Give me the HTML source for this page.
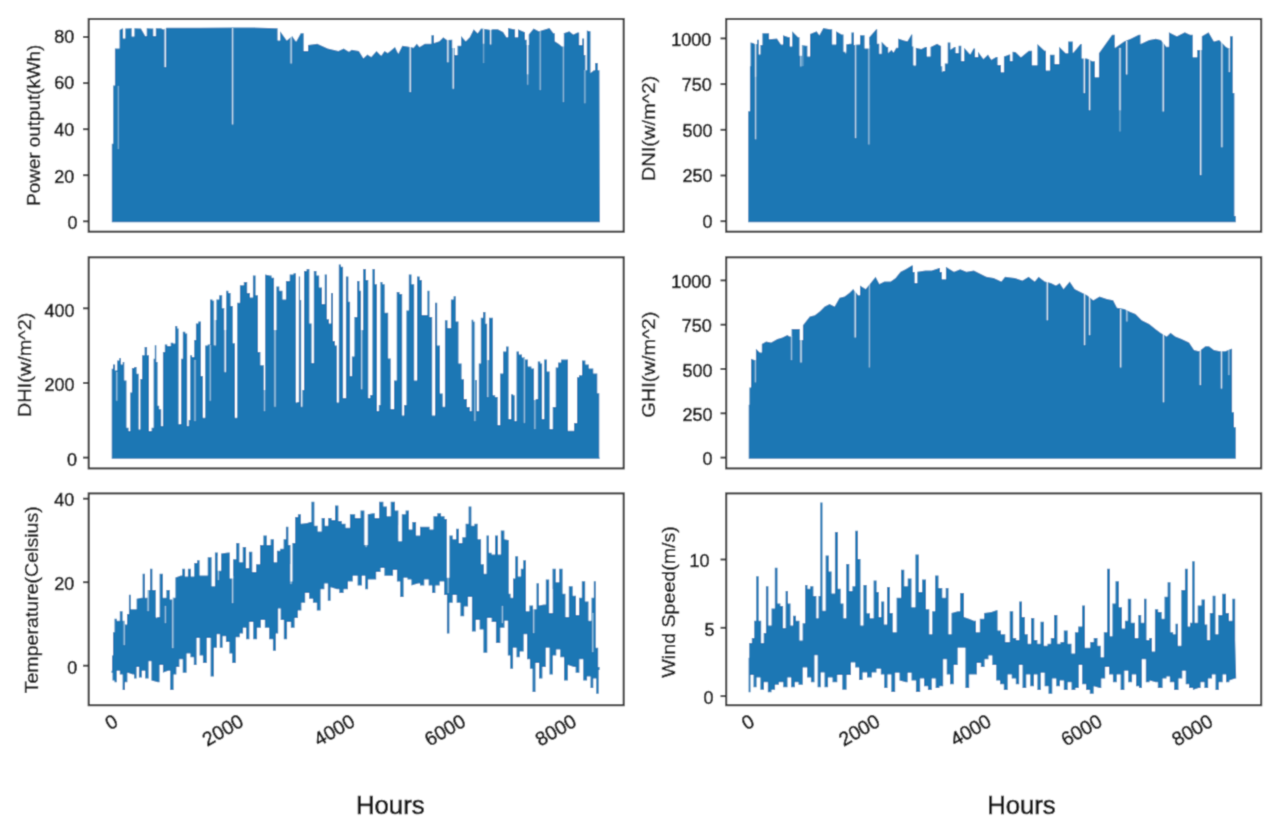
<!DOCTYPE html><html><head><meta charset="utf-8"><style>html,body{margin:0;padding:0;background:#fff;}svg{display:block}</style></head><body>
<svg width="1276" height="832" viewBox="0 0 1276 832" font-family='"Liberation Sans", sans-serif'>
<defs><filter id="bl" x="0" y="0" width="100%" height="100%"><feConvolveMatrix order="3" kernelMatrix="0.0622 0.2494 0.0622 0.2494 1.0000 0.2494 0.0622 0.2494 0.0622" edgeMode="duplicate"/></filter></defs>
<g filter="url(#bl)">
<rect width="1276" height="832" fill="#fff"/>
<polygon points="111.8,222.2 111.8,143.8 113.2,143.8 113.2,85.4 114.9,85.4 114.9,48.4 119.5,48.4 119.5,29.9 122.0,28.5 123.1,28.5 123.1,38.5 125.3,38.5 125.3,28.5 130.0,28.2 131.7,28.2 131.7,36.5 134.4,36.5 134.4,28.2 141.0,28.5 145.3,35.9 146.7,35.9 146.7,28.2 152.0,28.5 153.3,28.5 153.3,35.9 155.8,35.9 155.8,28.2 161.0,28.2 163.5,29.5 166.5,27.8 200.0,27.7 233.0,27.5 250.0,27.4 276.3,28.2 277.6,28.2 277.6,40.5 280.2,40.5 280.2,31.2 286.8,40.5 292.1,35.9 296.1,41.8 300.7,33.2 303.7,33.2 303.7,51.1 308.0,51.1 308.0,45.1 317.3,43.8 327.8,48.4 338.4,51.1 343.7,48.4 349.0,51.7 351.6,49.7 358.9,51.1 363.4,58.3 367.4,54.4 371.2,57.0 376.5,51.1 381.2,55.7 384.5,51.1 387.8,53.0 395.0,47.1 398.3,53.7 402.3,45.8 407.6,46.4 413.5,47.8 416.8,43.8 419.5,47.1 424.8,43.8 430.1,43.8 431.4,43.8 431.4,35.2 434.0,35.2 434.0,43.1 439.3,41.2 443.3,37.2 447.0,40.0 451.2,39.8 452.4,39.8 452.4,48.0 454.6,48.0 454.6,55.0 457.5,55.0 457.5,45.8 461.1,45.8 461.1,35.9 465.8,41.2 469.7,37.2 473.7,29.3 477.7,33.2 481.0,28.6 486.9,29.3 490.6,30.0 492.6,29.3 497.9,29.3 503.2,31.9 506.5,37.2 508.1,37.2 508.1,27.9 513.8,29.3 515.1,29.3 515.1,37.2 518.0,37.2 518.0,29.3 524.4,31.9 525.0,31.9 525.0,39.8 526.7,39.8 526.7,45.0 528.7,45.0 528.7,34.5 533.6,28.6 538.9,31.2 542.9,29.9 549.5,27.9 553.5,33.2 554.8,33.2 554.8,41.2 558.7,43.8 562.0,46.4 563.7,46.4 563.7,33.2 569.3,31.2 573.3,34.5 577.3,32.6 579.2,32.6 579.2,45.1 582.2,45.1 582.2,38.5 584.1,38.5 584.1,55.0 585.4,55.0 585.4,70.2 586.8,70.2 586.8,30.6 589.8,31.2 590.5,31.2 590.5,72.9 593.8,70.2 595.1,70.2 595.1,63.0 597.8,63.0 597.8,70.2 599.5,70.2 599.5,75.0 599.9,222.2 599.9,222.2" fill="#1f77b4"/><line x1="118.3" y1="86" x2="118.3" y2="149" stroke="#fff" stroke-width="1.4" stroke-opacity="0.35"/><line x1="165.2" y1="28" x2="165.2" y2="66.9" stroke="#fff" stroke-width="1.4" stroke-opacity="0.9"/><line x1="232.6" y1="28" x2="232.6" y2="124.5" stroke="#fff" stroke-width="1.4" stroke-opacity="0.7"/><line x1="291.1" y1="36" x2="291.1" y2="63.6" stroke="#fff" stroke-width="1.4" stroke-opacity="0.7"/><line x1="410.2" y1="47" x2="410.2" y2="92" stroke="#fff" stroke-width="1.4" stroke-opacity="0.8"/><line x1="447.9" y1="38" x2="447.9" y2="62.3" stroke="#fff" stroke-width="1.4" stroke-opacity="0.85"/><line x1="453.2" y1="40" x2="453.2" y2="88.7" stroke="#fff" stroke-width="1.4" stroke-opacity="0.8"/><line x1="483.6" y1="29" x2="483.6" y2="43.8" stroke="#fff" stroke-width="1.4" stroke-opacity="0.8"/><line x1="483.6" y1="43.8" x2="483.6" y2="63" stroke="#fff" stroke-width="1.4" stroke-opacity="0.3"/><line x1="490.6" y1="29" x2="490.6" y2="44.5" stroke="#fff" stroke-width="1.4" stroke-opacity="0.8"/><line x1="527.7" y1="40" x2="527.7" y2="74.2" stroke="#fff" stroke-width="1.4" stroke-opacity="0.85"/><line x1="527.7" y1="74" x2="527.7" y2="84.8" stroke="#fff" stroke-width="1.4" stroke-opacity="0.4"/><line x1="540.2" y1="31" x2="540.2" y2="90" stroke="#fff" stroke-width="1.4" stroke-opacity="0.45"/><line x1="563.4" y1="34" x2="563.4" y2="102" stroke="#fff" stroke-width="1.4" stroke-opacity="0.45"/><line x1="584.9" y1="70" x2="584.9" y2="103.3" stroke="#fff" stroke-width="1.4" stroke-opacity="0.45"/>
<rect x="88.7" y="19.0" width="535.0" height="212.7" fill="none" stroke="#383838" stroke-width="2.1"/>
<line x1="83.0" y1="221.3" x2="88.7" y2="221.3" stroke="#383838" stroke-width="2"/>
<text x="77.4" y="228.8" font-size="18.8" text-anchor="end" fill="#141414" stroke="#141414" stroke-width="0.65" textLength="10.0" lengthAdjust="spacingAndGlyphs">0</text>
<line x1="83.0" y1="175.2" x2="88.7" y2="175.2" stroke="#383838" stroke-width="2"/>
<text x="74.3" y="182.8" font-size="18.8" text-anchor="end" fill="#141414" stroke="#141414" stroke-width="0.65" textLength="20.0" lengthAdjust="spacingAndGlyphs">20</text>
<line x1="83.0" y1="129.2" x2="88.7" y2="129.2" stroke="#383838" stroke-width="2"/>
<text x="74.3" y="136.4" font-size="18.8" text-anchor="end" fill="#141414" stroke="#141414" stroke-width="0.65" textLength="20.0" lengthAdjust="spacingAndGlyphs">40</text>
<line x1="83.0" y1="83.1" x2="88.7" y2="83.1" stroke="#383838" stroke-width="2"/>
<text x="74.3" y="89.3" font-size="18.8" text-anchor="end" fill="#141414" stroke="#141414" stroke-width="0.65" textLength="20.0" lengthAdjust="spacingAndGlyphs">60</text>
<line x1="83.0" y1="37.0" x2="88.7" y2="37.0" stroke="#383838" stroke-width="2"/>
<text x="74.3" y="42.7" font-size="18.8" text-anchor="end" fill="#141414" stroke="#141414" stroke-width="0.65" textLength="20.0" lengthAdjust="spacingAndGlyphs">80</text>
<text transform="translate(40.2,125.2) rotate(-90)" font-size="18.5" text-anchor="middle" fill="#141414" textLength="161" lengthAdjust="spacingAndGlyphs" stroke="#141414" stroke-width="0.4">Power output(kWh)</text>
<polygon points="748.2,222.2 748.2,111.2 749.9,111.2 749.9,66.3 750.5,66.3 750.5,42.5 753.2,43.1 754.8,44.0 756.5,44.0 757.1,44.0 757.1,39.8 758.8,39.8 758.8,54.4 760.4,54.4 760.4,45.0 762.4,45.0 762.4,33.2 767.8,33.2 769.1,33.2 769.1,39.2 777.0,38.5 781.0,44.5 783.0,44.5 783.0,35.2 788.9,37.2 789.9,37.2 789.9,46.4 792.2,46.4 792.2,31.2 798.2,37.2 799.5,37.2 799.5,55.7 801.9,55.7 801.9,45.0 806.1,45.8 807.4,45.8 807.4,56.4 810.0,56.4 810.0,33.9 816.7,31.2 819.3,35.2 823.3,27.9 829.9,29.3 832.2,29.3 832.2,44.5 836.1,44.5 836.1,31.2 841.8,34.5 843.5,34.5 843.5,51.7 846.1,51.7 846.1,44.5 849.7,43.8 851.4,43.8 851.4,32.6 854.0,32.6 854.0,45.1 858.3,44.5 860.0,44.5 860.0,35.2 864.6,35.2 864.6,48.4 869.2,48.4 869.2,37.2 876.2,29.3 877.2,29.3 877.2,43.8 879.3,43.8 879.3,53.7 881.6,53.7 881.6,41.8 886.9,47.1 888.2,47.1 888.2,53.0 891.5,49.7 893.5,52.4 896.2,47.8 898.2,47.8 898.2,38.5 904.1,40.5 907.4,41.2 911.4,34.5 912.3,34.5 912.3,46.4 913.8,46.4 913.8,65.6 915.8,65.6 915.8,47.8 921.3,49.1 925.2,47.1 926.9,47.1 926.9,56.4 930.5,56.4 930.5,47.1 937.1,43.8 940.4,45.8 941.1,45.8 941.1,66.3 942.5,66.3 942.5,70.9 944.8,70.9 944.8,63.6 947.7,63.6 947.7,42.5 950.4,42.5 950.4,49.7 954.3,47.1 955.6,47.1 955.6,53.0 958.6,53.0 958.6,45.8 961.3,45.8 961.3,61.0 964.2,61.0 964.2,47.8 970.2,54.4 973.5,48.4 975.1,48.4 975.1,57.0 978.1,57.0 978.1,51.7 983.4,59.0 988.0,54.4 991.3,59.7 996.0,57.0 997.6,57.0 997.6,65.0 1001.0,65.0 1001.0,72.2 1003.9,72.2 1003.9,56.4 1009.2,54.4 1010.2,54.4 1010.2,61.0 1012.5,61.0 1012.5,51.7 1015.6,52.0 1020.9,57.3 1028.8,50.7 1032.1,50.7 1032.1,65.3 1037.4,65.3 1037.4,44.1 1044.7,50.7 1046.0,50.7 1046.0,70.5 1049.9,70.5 1049.9,54.7 1054.6,54.7 1054.6,63.9 1059.2,63.9 1059.2,46.7 1065.8,53.3 1068.2,53.3 1068.2,41.4 1072.8,41.4 1072.8,53.3 1080.4,44.1 1081.7,44.1 1081.7,58.6 1087.0,58.6 1092.3,61.3 1094.9,61.3 1094.9,77.2 1098.9,77.2 1098.9,53.3 1105.5,44.1 1112.1,34.8 1114.8,34.8 1114.8,48.1 1124.0,41.4 1130.6,38.8 1138.6,34.8 1140.5,34.8 1140.5,44.1 1149.1,40.1 1155.8,38.8 1161.0,40.1 1166.3,46.7 1168.9,46.7 1168.9,32.2 1176.9,36.2 1184.8,32.2 1190.1,34.8 1192.8,34.8 1192.8,57.3 1197.2,57.3 1197.2,50.0 1201.8,50.0 1201.8,36.2 1208.6,32.2 1213.9,41.4 1219.2,40.1 1225.8,46.7 1228.0,48.0 1230.0,48.0 1230.0,36.2 1232.8,36.2 1232.8,93.0 1234.4,93.0 1234.4,216.0 1235.8,216.0 1235.8,222.2 1236.4,222.2" fill="#1f77b4"/><line x1="755.6" y1="44" x2="755.6" y2="139.3" stroke="#fff" stroke-width="1.4" stroke-opacity="0.6"/><line x1="755.6" y1="44" x2="755.6" y2="76.8" stroke="#fff" stroke-width="1.4" stroke-opacity="0.4"/><line x1="800.9" y1="50" x2="800.9" y2="66.6" stroke="#fff" stroke-width="1.4" stroke-opacity="0.6"/><line x1="802.8" y1="45" x2="802.8" y2="66" stroke="#fff" stroke-width="1.4" stroke-opacity="0.3"/><line x1="845.6" y1="45" x2="845.6" y2="53.3" stroke="#fff" stroke-width="1.4" stroke-opacity="0.6"/><line x1="855.6" y1="45" x2="855.6" y2="138" stroke="#fff" stroke-width="1.4" stroke-opacity="0.65"/><line x1="868.9" y1="45" x2="868.9" y2="144.6" stroke="#fff" stroke-width="1.4" stroke-opacity="0.5"/><line x1="913.8" y1="46" x2="913.8" y2="65.2" stroke="#fff" stroke-width="1.4" stroke-opacity="0.6"/><line x1="942.4" y1="65" x2="942.4" y2="71.9" stroke="#fff" stroke-width="1.4" stroke-opacity="0.5"/><line x1="1084.3" y1="58" x2="1084.3" y2="93" stroke="#fff" stroke-width="1.4" stroke-opacity="0.8"/><line x1="1089.6" y1="60" x2="1089.6" y2="110.2" stroke="#fff" stroke-width="1.4" stroke-opacity="0.8"/><line x1="1120" y1="48" x2="1120" y2="110.2" stroke="#fff" stroke-width="1.4" stroke-opacity="0.8"/><line x1="1120" y1="110" x2="1120" y2="131.4" stroke="#fff" stroke-width="1.4" stroke-opacity="0.35"/><line x1="1126.7" y1="41" x2="1126.7" y2="74.5" stroke="#fff" stroke-width="1.4" stroke-opacity="0.8"/><line x1="1163.2" y1="40" x2="1163.2" y2="111.5" stroke="#fff" stroke-width="1.4" stroke-opacity="0.8"/><line x1="1200.7" y1="50" x2="1200.7" y2="175" stroke="#fff" stroke-width="1.4" stroke-opacity="0.8"/><line x1="1221.9" y1="41" x2="1221.9" y2="147.2" stroke="#fff" stroke-width="1.4" stroke-opacity="0.75"/><line x1="1229.3" y1="47" x2="1229.3" y2="71.9" stroke="#fff" stroke-width="1.4" stroke-opacity="0.7"/>
<rect x="726.2" y="19.0" width="535.0" height="212.7" fill="none" stroke="#383838" stroke-width="2.1"/>
<line x1="720.5" y1="221.2" x2="726.2" y2="221.2" stroke="#383838" stroke-width="2"/>
<text x="712.4" y="228.4" font-size="18.8" text-anchor="end" fill="#141414" stroke="#141414" stroke-width="0.65" textLength="10.0" lengthAdjust="spacingAndGlyphs">0</text>
<line x1="720.5" y1="175.5" x2="726.2" y2="175.5" stroke="#383838" stroke-width="2"/>
<text x="712.4" y="182.4" font-size="18.8" text-anchor="end" fill="#141414" stroke="#141414" stroke-width="0.65" textLength="30.0" lengthAdjust="spacingAndGlyphs">250</text>
<line x1="720.5" y1="129.8" x2="726.2" y2="129.8" stroke="#383838" stroke-width="2"/>
<text x="712.4" y="137.2" font-size="18.8" text-anchor="end" fill="#141414" stroke="#141414" stroke-width="0.65" textLength="30.0" lengthAdjust="spacingAndGlyphs">500</text>
<line x1="720.5" y1="84.1" x2="726.2" y2="84.1" stroke="#383838" stroke-width="2"/>
<text x="711.7" y="91.4" font-size="18.8" text-anchor="end" fill="#141414" stroke="#141414" stroke-width="0.65" textLength="30.0" lengthAdjust="spacingAndGlyphs">750</text>
<line x1="720.5" y1="38.4" x2="726.2" y2="38.4" stroke="#383838" stroke-width="2"/>
<text x="711.2" y="46.0" font-size="18.8" text-anchor="end" fill="#141414" stroke="#141414" stroke-width="0.65" textLength="40.0" lengthAdjust="spacingAndGlyphs">1000</text>
<text transform="translate(655.1,128.6) rotate(-90)" font-size="18.5" text-anchor="middle" fill="#141414" textLength="105.5" lengthAdjust="spacingAndGlyphs" stroke="#141414" stroke-width="0.4">DNI(w/m^2)</text>
<polygon points="111.7,458.8 111.7,368.8 113.0,368.8 113.0,364.6 115.1,364.6 115.1,370.5 117.2,370.5 117.2,360.4 119.3,360.4 119.3,357.9 120.9,357.9 120.9,364.6 122.7,364.6 122.7,362.1 124.3,362.1 124.3,380.6 126.5,380.6 126.5,427.7 128.6,427.7 128.6,431.1 130.2,431.1 130.2,392.4 131.9,392.4 131.9,368.0 134.1,368.0 134.1,367.1 136.6,367.1 136.6,373.8 138.7,373.8 138.7,429.4 140.3,429.4 140.3,378.9 142.1,378.9 142.1,355.3 144.6,355.3 144.6,346.9 147.1,346.9 147.1,355.3 149.0,355.3 149.0,431.1 151.6,431.1 151.6,427.7 153.6,427.7 153.6,358.7 154.8,358.7 154.8,345.2 156.3,345.2 156.3,362.1 157.6,362.1 157.6,405.8 159.2,405.8 159.2,409.2 161.2,409.2 161.2,426.0 162.9,426.0 162.9,352.0 164.8,352.0 164.8,344.4 167.3,344.4 167.3,346.1 170.7,346.1 170.7,342.7 173.2,342.7 173.2,343.6 175.2,343.6 175.2,325.9 177.3,325.9 177.3,328.4 178.6,328.4 178.6,424.3 180.5,424.0 181.1,424.0 181.1,358.7 182.8,358.7 182.8,331.8 185.3,331.8 185.3,333.5 187.2,333.5 187.2,426.0 188.7,426.0 188.7,420.0 190.2,420.0 190.2,355.3 192.1,355.3 192.1,357.0 194.2,357.0 194.2,340.0 195.9,340.0 195.9,323.4 198.3,323.4 198.3,321.4 200.9,321.4 200.9,376.1 202.9,376.1 202.9,417.7 205.2,417.7 205.2,345.5 207.7,345.5 207.7,344.4 210.1,344.4 210.1,299.6 212.5,299.6 212.5,300.7 214.4,300.7 214.4,320.0 216.4,320.0 216.4,299.6 219.2,299.6 219.2,295.2 222.2,295.2 222.2,308.3 224.4,308.3 224.4,330.0 226.2,330.0 226.2,290.8 228.4,290.8 228.4,293.0 230.6,293.0 230.6,306.1 232.8,306.1 232.8,343.3 235.0,343.3 235.0,417.7 237.2,417.7 237.2,302.8 239.9,302.8 239.9,285.3 243.8,285.3 243.8,282.1 247.2,282.1 247.2,293.0 250.0,293.0 250.0,297.4 252.9,297.4 252.9,275.5 255.6,275.5 255.6,295.2 258.0,295.2 258.0,352.1 260.4,352.1 260.4,365.2 263.4,365.2 263.9,365.2 263.9,390.0 265.1,390.0 265.1,274.4 270.0,275.5 271.6,275.5 271.6,277.7 274.1,277.7 274.1,330.0 276.4,330.0 276.4,286.4 279.3,286.4 279.3,290.8 282.5,290.8 282.5,299.6 285.9,299.6 285.9,281.0 289.7,281.0 289.7,274.4 293.5,274.4 293.5,273.3 295.9,273.3 295.9,402.4 297.4,402.4 297.4,402.0 298.8,402.0 298.8,276.6 300.1,276.6 300.1,300.0 301.2,300.0 301.2,406.8 302.4,406.8 302.4,390.0 304.0,390.0 304.0,271.1 306.6,271.1 306.6,268.9 309.4,268.9 309.4,323.6 311.6,323.6 311.6,363.0 313.8,363.0 313.8,271.1 316.5,271.1 316.5,275.5 319.2,275.5 319.2,287.5 322.0,287.5 322.0,303.9 324.7,303.9 324.7,274.4 326.9,274.4 326.9,319.3 329.0,319.3 329.0,323.6 331.1,323.6 331.1,293.0 333.0,293.0 333.0,341.1 335.0,341.1 335.0,345.5 336.9,345.5 336.9,402.4 338.8,402.4 338.8,264.6 340.9,264.6 340.9,266.8 343.1,266.8 343.1,398.0 345.9,398.0 345.9,276.6 348.4,276.6 348.4,301.8 350.1,301.8 350.1,376.1 351.9,376.1 351.9,356.4 354.4,356.4 354.4,317.1 357.1,317.1 357.1,281.0 359.5,281.0 359.5,290.8 361.1,290.8 361.1,330.0 363.1,330.0 363.1,268.9 365.9,268.9 365.9,279.9 368.3,279.9 368.3,398.0 370.2,398.0 370.2,395.0 372.4,395.0 372.4,268.9 374.9,268.9 374.9,284.3 377.0,284.3 377.0,411.1 378.8,411.1 378.8,405.0 380.4,405.0 380.4,282.1 382.5,282.1 382.5,284.3 384.7,284.3 384.7,312.7 387.3,312.7 388.2,312.7 388.2,358.6 390.7,358.6 390.7,409.0 394.0,409.0 394.0,380.5 396.7,380.5 396.7,291.9 399.5,291.9 399.5,294.1 402.2,294.1 402.2,415.5 404.1,415.5 404.1,405.0 406.4,405.0 406.4,310.5 408.8,310.5 408.8,274.4 411.5,274.4 411.5,284.3 414.2,284.3 414.2,380.5 417.0,380.5 417.0,276.6 419.7,276.6 419.7,279.9 421.9,279.9 421.9,314.9 426.3,314.9 427.4,314.9 427.4,290.8 429.5,290.8 429.5,317.1 432.2,317.1 432.2,415.5 435.0,415.5 435.0,302.8 437.2,302.8 437.2,345.5 440.0,345.5 440.0,393.6 442.7,393.6 442.7,406.8 444.9,406.8 444.9,320.3 447.5,320.3 447.5,328.0 450.9,328.0 450.9,299.6 453.6,299.6 453.6,296.3 455.8,296.3 455.8,321.4 458.5,321.4 458.5,363.4 461.6,363.4 461.6,379.3 464.0,379.3 464.0,399.1 466.9,399.1 466.9,407.1 469.9,407.1 469.9,411.0 471.6,411.0 471.6,319.8 473.3,319.8 473.3,321.8 475.1,321.8 475.1,380.0 476.9,380.0 476.9,411.0 478.8,411.0 478.8,363.4 480.8,363.4 480.8,317.8 483.0,317.8 483.0,311.9 485.5,311.9 485.5,323.8 487.3,323.8 487.3,360.0 489.0,360.0 489.0,317.8 492.1,317.8 492.9,317.8 492.9,395.2 495.2,395.2 495.2,397.1 497.7,397.1 497.7,424.9 500.1,424.9 500.1,373.4 503.1,373.4 503.1,351.5 506.1,351.5 506.1,346.6 508.6,346.6 508.6,419.0 511.1,419.0 511.1,394.2 513.2,394.2 513.2,395.2 514.7,395.2 514.7,420.9 516.5,420.9 516.5,351.5 519.0,351.5 519.0,354.5 522.0,354.5 522.0,357.5 524.9,357.5 524.9,359.5 527.9,359.5 527.9,366.4 531.4,366.4 531.4,368.4 534.1,368.4 534.1,400.0 535.6,400.0 535.6,399.1 537.8,399.1 537.8,361.5 540.3,361.5 540.3,363.4 542.1,363.4 542.1,419.0 544.2,419.0 544.2,359.5 546.9,359.5 546.9,371.4 549.7,371.4 549.7,428.9 552.7,428.9 552.7,407.1 555.7,407.1 555.7,367.4 558.1,367.4 558.1,362.5 561.1,362.5 561.1,359.5 567.1,359.5 568.0,359.5 568.0,430.8 572.0,430.8 574.0,430.8 574.0,422.9 577.0,422.9 577.0,377.3 579.0,377.3 579.0,375.3 582.0,375.3 582.0,360.5 585.4,360.5 585.4,364.4 588.8,364.4 588.8,368.4 593.3,368.4 593.3,373.4 597.3,373.4 597.3,393.2 599.3,393.2 599.3,456.6 599.8,458.8 599.8,458.8" fill="#1f77b4"/><line x1="116.8" y1="372" x2="116.8" y2="400.8" stroke="#fff" stroke-width="1.4" stroke-opacity="0.5"/><line x1="195" y1="360" x2="195" y2="421" stroke="#fff" stroke-width="1.4" stroke-opacity="0.5"/><line x1="210.2" y1="345" x2="210.2" y2="400.8" stroke="#fff" stroke-width="1.4" stroke-opacity="0.5"/><line x1="214.4" y1="301" x2="214.4" y2="345.2" stroke="#fff" stroke-width="1.4" stroke-opacity="0.6"/><line x1="225.3" y1="310" x2="225.3" y2="372.2" stroke="#fff" stroke-width="1.4" stroke-opacity="0.6"/><line x1="264.5" y1="366" x2="264.5" y2="411.1" stroke="#fff" stroke-width="1.4" stroke-opacity="0.5"/><line x1="275" y1="280" x2="275" y2="406.8" stroke="#fff" stroke-width="1.4" stroke-opacity="0.6"/><line x1="323.6" y1="276" x2="323.6" y2="303.9" stroke="#fff" stroke-width="1.4" stroke-opacity="0.5"/><line x1="361.7" y1="291" x2="361.7" y2="389.3" stroke="#fff" stroke-width="1.4" stroke-opacity="0.6"/><line x1="474.9" y1="322" x2="474.9" y2="420.9" stroke="#fff" stroke-width="1.4" stroke-opacity="0.5"/><line x1="487.8" y1="324" x2="487.8" y2="397.1" stroke="#fff" stroke-width="1.4" stroke-opacity="0.6"/><line x1="524.4" y1="358" x2="524.4" y2="422.9" stroke="#fff" stroke-width="1.4" stroke-opacity="0.5"/><line x1="534.9" y1="369" x2="534.9" y2="428.9" stroke="#fff" stroke-width="1.4" stroke-opacity="0.5"/><line x1="215.3" y1="301" x2="215.3" y2="345.5" stroke="#fff" stroke-width="1.4" stroke-opacity="0.6"/><line x1="225.2" y1="309" x2="225.2" y2="371.8" stroke="#fff" stroke-width="1.4" stroke-opacity="0.6"/>
<rect x="88.7" y="257.3" width="535.0" height="211.1" fill="none" stroke="#383838" stroke-width="2.1"/>
<line x1="83.0" y1="457.6" x2="88.7" y2="457.6" stroke="#383838" stroke-width="2"/>
<text x="77.0" y="465.8" font-size="18.8" text-anchor="end" fill="#141414" stroke="#141414" stroke-width="0.65" textLength="10.0" lengthAdjust="spacingAndGlyphs">0</text>
<line x1="83.0" y1="383.0" x2="88.7" y2="383.0" stroke="#383838" stroke-width="2"/>
<text x="74.5" y="391.1" font-size="18.8" text-anchor="end" fill="#141414" stroke="#141414" stroke-width="0.65" textLength="30.0" lengthAdjust="spacingAndGlyphs">200</text>
<line x1="83.0" y1="308.3" x2="88.7" y2="308.3" stroke="#383838" stroke-width="2"/>
<text x="74.5" y="316.8" font-size="18.8" text-anchor="end" fill="#141414" stroke="#141414" stroke-width="0.65" textLength="30.0" lengthAdjust="spacingAndGlyphs">400</text>
<text transform="translate(31.1,364.9) rotate(-90)" font-size="18.5" text-anchor="middle" fill="#141414" textLength="104.5" lengthAdjust="spacingAndGlyphs" stroke="#141414" stroke-width="0.4">DHI(w/m^2)</text>
<polygon points="748.7,458.8 748.7,404.8 749.4,404.8 749.4,387.4 751.0,387.4 751.0,358.8 754.4,360.0 755.9,360.0 755.9,348.8 759.9,352.6 761.8,352.6 761.8,343.9 766.1,341.4 771.1,342.6 777.3,338.9 782.3,337.6 787.3,335.1 789.8,336.4 791.6,336.4 791.6,328.9 798.5,328.9 799.8,328.9 799.8,340.0 802.9,340.0 802.9,325.2 809.7,316.5 814.7,315.2 819.6,311.5 824.6,306.5 829.6,304.0 834.6,306.5 839.5,297.8 844.5,296.6 849.5,292.8 853.2,289.1 858.2,295.3 860.0,295.3 860.0,285.4 865.7,289.1 870.6,282.9 875.6,276.7 879.4,284.1 884.3,281.6 890.6,281.6 895.5,277.9 900.5,271.7 905.5,269.2 911.7,265.5 912.9,265.5 912.9,272.0 914.7,272.0 914.7,282.9 917.3,282.9 917.3,271.7 925.4,270.4 931.6,270.4 939.1,268.0 940.0,268.0 940.0,272.0 941.9,272.0 941.9,279.2 945.9,279.2 945.9,266.7 954.0,271.7 960.2,269.2 966.5,271.7 973.9,270.4 978.9,272.9 986.4,276.7 993.8,277.9 1001.3,281.6 1005.0,276.7 1014.9,277.9 1022.4,280.4 1028.6,276.7 1034.8,281.6 1038.6,276.7 1044.8,281.6 1051.0,282.9 1056.0,285.4 1059.7,282.9 1063.5,289.1 1069.7,281.6 1074.7,289.1 1082.1,292.8 1087.1,295.3 1093.3,300.3 1099.5,296.6 1107.0,299.1 1113.2,300.3 1117.0,307.8 1124.4,309.0 1129.4,311.5 1135.6,314.0 1141.8,320.2 1149.3,323.9 1155.5,328.9 1160.5,332.7 1166.7,336.4 1170.5,332.7 1175.4,336.4 1181.7,338.9 1189.1,342.6 1194.1,350.1 1199.1,351.3 1205.3,346.3 1209.0,346.3 1214.0,350.1 1220.2,351.3 1225.2,351.3 1231.4,348.8 1232.1,348.8 1232.1,412.3 1234.0,412.3 1234.0,427.2 1235.8,427.2 1235.8,458.8 1236.4,458.8" fill="#1f77b4"/><line x1="755.4" y1="360" x2="755.4" y2="382.4" stroke="#fff" stroke-width="1.4" stroke-opacity="0.5"/><line x1="791.5" y1="336" x2="791.5" y2="360" stroke="#fff" stroke-width="1.4" stroke-opacity="0.5"/><line x1="801" y1="329" x2="801" y2="362.5" stroke="#fff" stroke-width="1.4" stroke-opacity="0.8"/><line x1="855.2" y1="290" x2="855.2" y2="337.6" stroke="#fff" stroke-width="1.4" stroke-opacity="0.75"/><line x1="869.4" y1="284" x2="869.4" y2="367.5" stroke="#fff" stroke-width="1.4" stroke-opacity="0.45"/><line x1="1047.3" y1="282" x2="1047.3" y2="320.2" stroke="#fff" stroke-width="1.4" stroke-opacity="0.75"/><line x1="1084.6" y1="294" x2="1084.6" y2="345.1" stroke="#fff" stroke-width="1.4" stroke-opacity="0.75"/><line x1="1089.6" y1="297" x2="1089.6" y2="335.1" stroke="#fff" stroke-width="1.4" stroke-opacity="0.75"/><line x1="1120.7" y1="309" x2="1120.7" y2="367.5" stroke="#fff" stroke-width="1.4" stroke-opacity="0.75"/><line x1="1126.9" y1="310" x2="1126.9" y2="321.5" stroke="#fff" stroke-width="1.4" stroke-opacity="0.6"/><line x1="1163.5" y1="334" x2="1163.5" y2="402.3" stroke="#fff" stroke-width="1.4" stroke-opacity="0.75"/><line x1="1200.3" y1="350" x2="1200.3" y2="384.9" stroke="#fff" stroke-width="1.4" stroke-opacity="0.75"/><line x1="1221.5" y1="351" x2="1221.5" y2="388.6" stroke="#fff" stroke-width="1.4" stroke-opacity="0.75"/><line x1="1228.9" y1="350" x2="1228.9" y2="375" stroke="#fff" stroke-width="1.4" stroke-opacity="0.5"/>
<rect x="726.2" y="257.3" width="535.0" height="211.1" fill="none" stroke="#383838" stroke-width="2.1"/>
<line x1="720.5" y1="457.6" x2="726.2" y2="457.6" stroke="#383838" stroke-width="2"/>
<text x="712.4" y="465.2" font-size="18.8" text-anchor="end" fill="#141414" stroke="#141414" stroke-width="0.65" textLength="10.0" lengthAdjust="spacingAndGlyphs">0</text>
<line x1="720.5" y1="413.3" x2="726.2" y2="413.3" stroke="#383838" stroke-width="2"/>
<text x="712.4" y="420.8" font-size="18.8" text-anchor="end" fill="#141414" stroke="#141414" stroke-width="0.65" textLength="30.0" lengthAdjust="spacingAndGlyphs">250</text>
<line x1="720.5" y1="369.0" x2="726.2" y2="369.0" stroke="#383838" stroke-width="2"/>
<text x="712.4" y="376.5" font-size="18.8" text-anchor="end" fill="#141414" stroke="#141414" stroke-width="0.65" textLength="30.0" lengthAdjust="spacingAndGlyphs">500</text>
<line x1="720.5" y1="324.7" x2="726.2" y2="324.7" stroke="#383838" stroke-width="2"/>
<text x="711.7" y="332.2" font-size="18.8" text-anchor="end" fill="#141414" stroke="#141414" stroke-width="0.65" textLength="30.0" lengthAdjust="spacingAndGlyphs">750</text>
<line x1="720.5" y1="280.4" x2="726.2" y2="280.4" stroke="#383838" stroke-width="2"/>
<text x="711.2" y="287.9" font-size="18.8" text-anchor="end" fill="#141414" stroke="#141414" stroke-width="0.65" textLength="40.0" lengthAdjust="spacingAndGlyphs">1000</text>
<text transform="translate(655.2,364.7) rotate(-90)" font-size="18.5" text-anchor="middle" fill="#141414" textLength="106" lengthAdjust="spacingAndGlyphs" stroke="#141414" stroke-width="0.4">GHI(w/m^2)</text>
<polygon points="111.5,670.8 112.0,670.8 112.0,655.4 113.0,655.4 113.0,632.3 114.5,632.3 114.5,618.8 116.8,618.8 116.8,620.8 119.8,620.8 119.8,611.2 122.6,611.2 122.6,620.8 125.0,620.8 125.0,624.6 127.0,624.6 127.0,614.0 128.9,614.0 128.9,594.8 130.8,594.8 130.8,609.2 135.6,609.2 136.6,609.2 136.6,598.7 141.3,597.7 142.6,597.7 142.6,573.7 145.0,573.7 145.0,597.7 147.6,597.7 147.6,590.0 150.0,590.0 150.0,568.8 152.4,568.8 152.4,590.0 155.8,590.0 155.8,616.9 159.6,616.9 159.6,573.7 162.9,573.7 162.9,597.7 166.4,597.7 166.4,590.0 169.8,590.0 169.8,599.6 172.6,599.6 172.6,597.7 175.4,597.7 175.4,577.5 180.8,575.6 182.2,575.6 182.2,568.8 185.1,568.8 185.1,576.5 187.9,576.5 187.9,568.8 190.9,568.8 190.9,576.5 194.2,576.5 194.2,563.1 197.1,563.1 197.1,560.2 199.6,560.2 199.6,575.6 205.8,575.6 207.7,575.6 207.7,557.3 211.6,557.3 211.6,586.2 214.9,586.2 214.9,552.5 217.8,552.5 217.8,570.8 221.1,570.8 221.1,553.5 227.9,552.5 229.8,552.5 229.8,578.5 233.1,578.5 233.1,559.2 236.2,559.2 236.2,543.1 239.4,543.1 239.4,562.3 242.7,562.3 242.7,546.9 246.1,546.9 246.1,568.1 248.9,568.1 248.9,551.7 252.3,551.7 252.3,571.9 256.1,571.9 256.1,564.2 260.0,564.2 260.0,545.0 263.4,545.0 263.4,535.4 266.8,535.4 266.8,545.0 270.6,545.0 270.6,539.2 273.9,539.2 273.9,562.3 276.9,562.3 276.9,550.8 280.2,550.8 280.2,548.8 283.6,548.8 283.6,539.2 285.9,539.2 285.9,526.7 288.4,526.7 288.4,545.0 290.5,545.0 290.5,581.5 292.4,581.5 292.4,543.1 295.1,543.1 295.1,517.1 297.9,517.1 297.9,514.2 300.9,514.2 300.9,523.8 307.1,522.9 310.0,521.9 311.4,521.9 311.4,501.7 314.4,501.7 314.4,525.8 317.7,525.8 317.7,531.5 321.6,531.5 321.6,518.1 324.9,518.1 324.9,525.8 328.2,525.8 328.2,518.1 331.6,518.1 331.6,520.0 335.0,520.0 335.0,505.6 338.4,505.6 338.4,521.0 341.8,521.0 341.8,523.8 345.6,523.8 345.6,527.7 349.9,527.7 349.9,514.2 355.2,514.2 355.2,518.1 360.5,518.1 360.5,510.4 364.4,510.4 364.4,545.0 367.7,545.0 367.7,514.2 372.9,513.3 374.8,513.3 374.8,518.1 379.1,518.1 379.1,501.7 383.4,501.7 383.4,506.5 386.9,506.5 386.9,516.2 390.7,516.2 390.7,501.7 395.0,501.7 395.0,510.4 398.4,510.4 398.4,541.2 401.8,541.2 401.8,514.2 405.6,514.2 405.6,510.4 408.9,510.4 408.9,529.6 412.3,529.6 412.3,521.9 416.1,521.9 416.1,535.4 420.0,535.4 420.0,526.7 427.7,526.7 429.6,526.7 429.6,529.6 433.4,529.6 433.4,516.2 437.3,516.2 437.3,513.3 441.1,513.3 441.1,516.2 444.6,516.2 444.6,519.0 446.9,519.0 446.9,577.7 449.4,577.7 449.4,535.4 452.7,535.4 452.7,539.2 456.1,539.2 456.1,528.7 458.9,528.7 458.9,543.1 462.3,543.1 462.3,537.3 465.6,537.3 465.6,523.8 468.6,523.8 468.6,506.5 471.4,506.5 471.4,525.8 474.4,525.8 474.4,523.8 477.7,523.8 477.7,539.2 481.1,539.2 481.1,564.2 483.9,564.2 483.9,573.8 486.5,573.8 486.5,535.4 488.9,535.4 488.9,552.7 491.6,552.7 491.6,554.6 495.0,554.6 495.0,535.4 498.0,535.4 498.0,554.6 500.8,554.6 500.8,530.6 504.4,530.6 504.4,539.2 508.3,540.0 508.8,540.0 508.8,593.8 510.6,593.8 510.6,597.7 513.0,597.7 513.0,578.5 515.2,578.5 515.2,556.3 518.1,556.3 518.1,576.5 520.8,576.5 520.8,568.8 523.2,568.8 523.2,560.2 526.0,560.2 526.0,611.2 529.4,611.2 529.4,605.4 533.2,605.4 533.2,609.2 536.5,609.2 536.5,583.3 538.9,583.3 538.9,605.4 543.8,604.4 545.8,604.4 545.8,579.4 549.2,579.4 549.2,613.1 552.5,613.1 552.5,568.8 555.8,568.8 555.8,582.3 559.2,582.3 559.2,568.8 562.6,568.8 562.6,593.8 565.5,593.8 565.5,616.9 568.8,616.9 568.8,586.2 572.7,586.2 572.7,595.8 576.0,595.8 576.0,615.0 579.0,615.0 579.0,597.7 581.8,597.7 581.8,581.3 585.2,581.3 585.2,601.5 588.5,601.5 588.5,620.8 591.5,620.8 591.5,597.7 593.8,597.7 593.8,581.3 595.8,581.3 595.8,647.7 598.2,647.7 598.2,666.9 599.6,666.9 599.6,670.0 598.7,670.0 598.7,693.8 596.2,693.8 596.2,678.5 593.3,678.5 593.3,688.1 590.5,688.1 590.5,676.5 587.1,676.5 587.1,680.4 583.2,680.4 583.2,659.2 579.4,659.2 579.4,672.7 575.6,672.7 575.6,666.9 573.7,666.9 567.9,665.0 567.9,680.4 564.0,680.4 564.0,657.3 560.2,657.3 560.2,649.6 556.3,649.6 556.3,655.4 552.8,655.4 552.8,674.6 549.5,674.6 549.5,647.7 545.8,647.7 545.8,666.9 542.4,666.9 542.4,678.5 539.0,678.5 539.0,663.1 535.5,663.1 535.5,691.9 532.5,691.9 532.5,668.8 529.9,668.8 529.9,659.2 527.0,659.2 527.0,634.2 523.7,634.2 523.7,651.5 519.8,651.5 519.8,657.3 516.5,657.3 516.5,647.7 513.1,647.7 513.1,668.8 510.2,668.8 510.2,655.4 507.8,655.4 507.8,620.8 504.5,620.8 504.5,627.7 500.3,627.7 500.3,643.1 495.9,643.1 495.9,621.9 491.6,621.9 491.6,618.1 487.3,618.1 487.3,652.7 483.4,652.7 483.4,629.6 479.6,629.6 479.6,620.0 475.8,620.0 475.8,631.5 471.9,631.5 471.9,596.9 468.1,596.9 468.1,606.5 464.2,606.5 464.2,616.2 460.4,616.2 460.4,602.7 456.6,602.7 456.6,595.0 452.7,595.0 452.7,602.7 449.4,602.7 449.4,633.5 446.9,633.5 446.9,595.0 444.1,595.0 444.1,581.5 439.7,581.5 439.7,585.4 435.4,585.4 435.4,593.1 432.1,593.1 432.1,585.4 428.6,585.4 428.6,579.6 424.3,579.6 424.3,585.4 420.0,585.4 420.0,583.5 418.1,583.5 411.4,585.4 411.4,579.6 407.5,579.6 407.5,577.7 403.6,577.7 403.6,596.9 400.2,596.9 400.2,581.5 396.9,581.5 396.9,570.0 393.1,570.0 393.1,575.8 391.2,575.8 384.4,575.8 384.4,568.1 380.6,568.1 380.6,571.9 376.2,571.9 376.2,579.6 373.8,579.6 368.1,579.6 368.1,589.2 365.2,589.2 365.2,575.8 361.9,575.8 361.9,585.4 357.6,585.4 357.6,575.8 352.8,575.8 352.8,581.5 348.0,581.5 348.0,589.2 343.6,589.2 343.6,593.1 339.3,593.1 339.3,589.2 336.9,589.2 330.6,587.3 330.6,600.8 327.8,600.8 327.8,583.5 324.4,583.5 324.4,589.2 320.6,589.2 320.6,610.4 316.8,610.4 316.8,602.7 312.9,602.7 312.9,598.8 309.1,598.8 309.1,593.1 305.2,593.1 305.2,602.7 301.4,602.7 301.4,610.4 297.9,610.4 297.9,618.1 294.6,618.1 294.6,627.7 290.8,627.7 290.8,621.9 287.1,621.9 287.1,639.2 283.8,639.2 283.8,620.0 280.6,620.0 280.6,608.5 278.2,608.5 278.2,633.5 275.9,633.5 275.9,650.8 272.9,650.8 272.9,639.2 269.1,639.2 269.1,627.7 264.8,627.7 264.8,620.0 260.9,620.0 260.9,627.7 257.1,627.7 257.1,639.2 253.2,639.2 253.2,621.9 249.4,621.9 249.4,639.2 246.1,639.2 246.1,627.7 243.1,627.7 243.1,633.5 239.8,633.5 239.8,637.3 235.8,637.3 235.8,663.1 232.2,663.1 232.2,653.5 229.4,653.5 229.4,641.9 225.9,641.9 225.9,636.2 222.6,636.2 222.6,647.7 219.8,647.7 219.8,634.2 216.9,634.2 216.9,647.7 213.9,647.7 213.9,676.5 210.6,676.5 210.6,638.1 206.8,638.1 206.8,663.1 202.9,663.1 202.9,655.4 199.6,655.4 199.6,638.1 196.6,638.1 196.6,665.0 193.8,665.0 193.8,657.3 190.4,657.3 190.4,653.5 186.6,653.5 186.6,672.7 182.7,672.7 182.7,659.2 179.4,659.2 179.4,666.9 176.4,666.9 176.4,674.6 173.6,674.6 173.6,690.0 170.2,690.0 170.2,670.8 168.3,670.8 162.9,672.7 162.9,665.0 159.6,665.0 159.6,682.3 157.7,682.3 151.4,680.4 151.4,661.2 148.6,661.2 148.6,678.5 145.2,678.5 145.2,670.8 141.9,670.8 141.9,677.5 138.9,677.5 138.9,666.9 136.6,666.9 136.6,678.5 134.1,678.5 134.1,674.6 132.7,674.6 127.4,672.7 127.4,682.3 125.0,682.3 125.0,690.0 122.6,690.0 122.6,674.6 119.8,674.6 119.8,670.8 116.8,670.8 116.8,682.3 114.5,682.3 114.5,680.4 112.5,680.4 112.5,672.7 111.5,672.7" fill="#1f77b4"/><line x1="124.2" y1="618" x2="124.2" y2="645" stroke="#fff" stroke-width="1.4" stroke-opacity="0.55"/><line x1="148.1" y1="581" x2="148.1" y2="611" stroke="#fff" stroke-width="1.4" stroke-opacity="0.6"/><line x1="156.7" y1="589" x2="156.7" y2="618" stroke="#fff" stroke-width="1.4" stroke-opacity="0.6"/><line x1="172.8" y1="598" x2="172.8" y2="648" stroke="#fff" stroke-width="1.4" stroke-opacity="0.6"/><line x1="165.4" y1="606" x2="165.4" y2="623" stroke="#fff" stroke-width="1.4" stroke-opacity="0.5"/><line x1="232.6" y1="576" x2="232.6" y2="603" stroke="#fff" stroke-width="1.4" stroke-opacity="0.6"/><line x1="291" y1="564" x2="291" y2="584" stroke="#fff" stroke-width="1.4" stroke-opacity="0.5"/><line x1="218.4" y1="556" x2="218.4" y2="580" stroke="#fff" stroke-width="1.4" stroke-opacity="0.5"/><line x1="366.1" y1="532" x2="366.1" y2="547" stroke="#fff" stroke-width="1.4" stroke-opacity="0.5"/><line x1="399.4" y1="525" x2="399.4" y2="539" stroke="#fff" stroke-width="1.4" stroke-opacity="0.5"/><line x1="448.1" y1="532" x2="448.1" y2="593" stroke="#fff" stroke-width="1.4" stroke-opacity="0.45"/><line x1="502.4" y1="606" x2="502.4" y2="623" stroke="#fff" stroke-width="1.4" stroke-opacity="0.5"/><line x1="533.7" y1="594" x2="533.7" y2="633" stroke="#fff" stroke-width="1.4" stroke-opacity="0.55"/><line x1="552.1" y1="589" x2="552.1" y2="613" stroke="#fff" stroke-width="1.4" stroke-opacity="0.5"/><line x1="592.8" y1="613" x2="592.8" y2="652" stroke="#fff" stroke-width="1.4" stroke-opacity="0.55"/>
<rect x="88.7" y="493.4" width="535.0" height="211.8" fill="none" stroke="#383838" stroke-width="2.1"/>
<line x1="83.0" y1="665.7" x2="88.7" y2="665.7" stroke="#383838" stroke-width="2"/>
<text x="77.3" y="673.7" font-size="18.8" text-anchor="end" fill="#141414" stroke="#141414" stroke-width="0.65" textLength="10.0" lengthAdjust="spacingAndGlyphs">0</text>
<line x1="83.0" y1="582.2" x2="88.7" y2="582.2" stroke="#383838" stroke-width="2"/>
<text x="74.3" y="590.4" font-size="18.8" text-anchor="end" fill="#141414" stroke="#141414" stroke-width="0.65" textLength="20.0" lengthAdjust="spacingAndGlyphs">20</text>
<line x1="83.0" y1="498.7" x2="88.7" y2="498.7" stroke="#383838" stroke-width="2"/>
<text x="74.3" y="506.3" font-size="18.8" text-anchor="end" fill="#141414" stroke="#141414" stroke-width="0.65" textLength="20.0" lengthAdjust="spacingAndGlyphs">40</text>
<text transform="translate(38.300000000000004,599.8) rotate(-90)" font-size="18.5" text-anchor="middle" fill="#141414" textLength="187" lengthAdjust="spacingAndGlyphs" stroke="#141414" stroke-width="0.4">Temperature(Celsius)</text>
<text transform="translate(111.3,721.9) rotate(-30)" font-size="19.5" text-anchor="middle" fill="#141414" dy="6.9" stroke="#141414" stroke-width="0.65">0</text>
<text transform="translate(222.7,729.9) rotate(-30)" font-size="19.5" text-anchor="middle" fill="#141414" dy="6.9" stroke="#141414" stroke-width="0.65">2000</text>
<text transform="translate(334.1,729.9) rotate(-30)" font-size="19.5" text-anchor="middle" fill="#141414" dy="6.9" stroke="#141414" stroke-width="0.65">4000</text>
<text transform="translate(444.9,729.9) rotate(-30)" font-size="19.5" text-anchor="middle" fill="#141414" dy="6.9" stroke="#141414" stroke-width="0.65">6000</text>
<text transform="translate(555.7,729.9) rotate(-30)" font-size="19.5" text-anchor="middle" fill="#141414" dy="6.9" stroke="#141414" stroke-width="0.65">8000</text>
<polygon points="748.6,657.7 749.2,657.7 749.2,642.9 751.8,642.9 751.8,638.0 754.2,638.0 754.2,620.7 756.2,620.7 756.2,576.3 758.7,576.3 758.7,620.7 761.2,620.7 761.2,642.9 763.7,642.9 763.7,633.0 765.9,633.0 765.9,586.2 768.4,586.2 768.4,625.6 771.5,625.6 771.5,608.4 774.8,608.4 774.8,567.7 777.5,567.7 777.5,603.5 780.4,603.5 780.4,605.9 783.1,605.9 783.1,628.1 785.6,628.1 785.6,591.1 788.0,591.1 788.0,603.5 790.5,603.5 790.5,625.6 793.0,625.6 793.0,615.8 796.0,615.8 796.0,620.7 799.5,620.7 799.5,640.4 802.6,640.4 802.6,623.2 805.1,623.2 805.1,585.0 807.5,585.0 807.5,588.7 810.2,588.7 810.2,586.2 813.4,586.2 813.4,596.1 816.4,596.1 816.4,618.2 818.5,618.2 818.5,596.1 820.3,596.1 820.3,502.4 822.5,502.4 822.5,610.8 825.6,610.8 825.6,555.4 828.8,555.4 828.8,571.4 831.6,571.4 831.6,593.6 834.9,593.6 834.9,532.0 837.9,532.0 837.9,588.7 840.7,588.7 840.7,603.5 843.5,603.5 843.5,618.2 846.2,618.2 846.2,564.0 849.3,564.0 849.3,591.1 852.4,591.1 852.4,586.2 855.2,586.2 855.2,530.7 858.0,530.7 858.0,559.1 860.5,559.1 860.5,625.6 863.4,625.6 863.4,585.0 866.7,585.0 866.7,613.3 870.0,613.3 870.0,618.2 873.6,618.2 873.6,580.4 876.6,580.4 876.6,591.9 878.8,591.9 878.8,616.9 881.2,616.9 881.2,601.5 884.2,601.5 884.2,624.6 887.0,624.6 887.0,587.1 889.9,587.1 889.9,613.1 892.8,613.1 892.8,632.3 896.6,632.3 896.6,597.7 901.0,597.7 901.0,569.8 904.3,569.8 904.3,586.2 907.7,586.2 907.7,578.5 911.5,578.5 911.5,607.3 915.4,607.3 915.4,554.4 918.8,554.4 918.8,591.9 922.1,591.9 922.1,579.4 926.0,579.4 926.0,609.2 929.3,609.2 929.3,634.2 932.2,634.2 932.2,611.2 935.1,611.2 935.1,575.6 938.5,575.6 938.5,588.1 942.3,588.1 942.3,597.7 945.7,597.7 945.7,588.1 948.5,588.1 948.5,634.2 951.5,634.2 951.5,613.1 957.7,611.2 960.1,611.2 960.1,592.9 964.0,592.9 964.0,616.9 969.2,618.8 974.0,620.8 976.0,620.8 976.0,632.3 979.8,632.3 979.8,618.8 984.1,618.8 984.1,613.1 991.3,612.1 996.2,610.2 997.6,610.2 997.6,630.4 1001.0,630.4 1001.0,634.2 1005.3,634.2 1005.3,641.9 1009.7,641.9 1009.7,611.2 1013.2,611.2 1013.2,638.1 1016.2,638.1 1016.2,640.0 1019.2,640.0 1019.2,601.5 1022.0,601.5 1022.0,616.9 1024.9,616.9 1024.9,634.2 1027.8,634.2 1027.8,643.8 1031.0,643.8 1031.0,617.9 1034.3,617.9 1034.3,640.0 1037.4,640.0 1037.4,643.8 1040.5,643.8 1040.5,621.7 1043.9,621.7 1043.9,645.8 1047.5,645.8 1047.5,643.8 1050.8,643.8 1050.8,638.1 1054.0,638.1 1054.0,615.0 1057.4,615.0 1057.4,643.8 1060.5,643.8 1060.5,641.9 1063.8,641.9 1063.8,630.4 1067.7,630.4 1067.7,643.8 1071.5,643.8 1071.5,653.5 1074.9,653.5 1074.9,632.3 1078.2,632.3 1078.2,626.5 1082.1,626.5 1082.1,605.4 1085.0,605.4 1085.0,647.7 1088.8,647.7 1090.2,647.7 1090.2,641.9 1093.7,641.9 1093.7,638.1 1097.5,638.1 1097.5,645.8 1100.8,645.8 1100.8,657.3 1103.8,657.3 1103.8,632.3 1107.1,632.3 1107.1,568.8 1110.0,568.8 1110.0,636.2 1112.4,636.2 1112.4,603.5 1115.5,603.5 1115.5,581.3 1118.9,581.3 1118.9,607.3 1122.0,607.3 1122.0,628.5 1124.9,628.5 1124.9,620.8 1127.8,620.8 1127.8,598.7 1131.2,598.7 1131.2,622.7 1135.0,622.7 1135.0,638.1 1138.3,638.1 1138.3,615.0 1141.2,615.0 1141.2,622.7 1144.0,622.7 1144.0,598.7 1146.5,598.7 1146.5,640.0 1149.2,640.0 1149.2,638.1 1152.0,638.1 1152.0,651.5 1154.9,651.5 1154.9,609.2 1158.2,609.2 1158.2,612.1 1161.7,612.1 1161.7,618.8 1164.5,618.8 1164.5,596.7 1167.6,596.7 1167.6,582.3 1170.5,582.3 1170.5,632.3 1173.2,632.3 1173.2,634.2 1175.5,634.2 1175.5,623.7 1178.0,623.7 1178.0,645.8 1181.3,645.8 1181.3,590.0 1184.9,590.0 1184.9,568.8 1187.8,568.8 1187.8,626.5 1190.0,626.5 1190.0,622.7 1192.2,622.7 1192.2,561.2 1194.7,561.2 1194.7,622.7 1197.7,622.7 1197.7,605.4 1201.5,605.4 1201.5,599.6 1204.9,599.6 1204.9,624.6 1207.3,624.6 1207.3,640.0 1209.8,640.0 1209.8,613.1 1212.6,613.1 1212.6,595.8 1215.5,595.8 1215.5,634.2 1218.3,634.2 1218.3,615.0 1222.2,615.0 1222.2,593.8 1226.0,593.8 1226.0,613.1 1229.0,613.1 1229.0,620.8 1232.3,620.8 1232.3,598.7 1235.2,598.7 1235.2,640.0 1236.2,678.5 1236.2,678.5 1235.2,678.5 1235.2,678.5 1229.4,680.4 1229.4,682.3 1226.0,682.3 1226.0,674.6 1222.7,674.6 1222.7,682.3 1218.8,682.3 1218.8,690.0 1215.5,690.0 1215.5,674.6 1212.1,674.6 1212.1,678.5 1208.2,678.5 1208.2,688.1 1204.4,688.1 1204.4,682.3 1200.6,682.3 1200.6,688.1 1198.7,688.1 1192.9,690.0 1192.9,688.1 1189.0,688.1 1189.0,684.2 1185.7,684.2 1185.7,670.8 1182.3,670.8 1182.3,678.5 1178.5,678.5 1178.5,690.0 1174.1,690.0 1174.1,682.3 1169.8,682.3 1169.8,676.5 1166.5,676.5 1166.5,678.5 1162.6,678.5 1162.6,688.1 1157.8,688.1 1157.8,682.3 1155.4,682.3 1149.6,680.4 1149.6,682.3 1145.8,682.3 1145.8,659.2 1141.9,659.2 1141.9,688.1 1139.0,688.1 1139.0,686.2 1136.0,686.2 1136.0,674.6 1132.1,674.6 1132.1,682.3 1128.2,682.3 1128.2,670.8 1124.4,670.8 1124.4,690.0 1120.6,690.0 1120.6,674.6 1116.8,674.6 1116.8,682.3 1112.9,682.3 1112.9,674.6 1109.0,674.6 1109.0,666.9 1105.2,666.9 1105.2,678.5 1101.3,678.5 1101.3,688.1 1099.4,688.1 1093.7,686.2 1093.7,693.8 1089.8,693.8 1089.8,690.0 1086.0,690.0 1086.0,684.2 1082.1,684.2 1082.1,665.0 1078.8,665.0 1078.8,688.1 1075.4,688.1 1075.4,690.0 1071.5,690.0 1071.5,682.3 1067.7,682.3 1067.7,690.0 1063.8,690.0 1063.8,680.4 1060.0,680.4 1060.0,686.2 1056.2,686.2 1056.2,678.5 1052.3,678.5 1052.3,693.8 1048.5,693.8 1048.5,686.2 1044.6,686.2 1044.6,672.7 1040.8,672.7 1040.8,690.0 1037.4,690.0 1037.4,674.6 1034.0,674.6 1034.0,686.2 1030.2,686.2 1030.2,674.6 1026.3,674.6 1026.3,688.1 1022.5,688.1 1022.5,665.0 1019.2,665.0 1019.2,684.2 1015.8,684.2 1015.8,678.5 1011.7,678.5 1011.7,674.6 1007.7,674.6 1007.7,690.0 1003.8,690.0 1003.8,684.2 1000.0,684.2 1000.0,680.4 996.2,680.4 996.2,665.0 992.3,665.0 992.3,655.4 988.5,655.4 988.5,659.2 984.6,659.2 984.6,666.9 980.8,666.9 980.8,663.1 976.9,663.1 976.9,674.6 975.0,674.6 969.2,674.6 969.2,688.1 965.4,688.1 965.4,647.7 963.5,647.7 957.7,647.7 957.7,665.0 953.8,665.0 953.8,684.2 950.0,684.2 950.0,674.6 946.7,674.6 946.7,659.2 943.2,659.2 943.2,686.2 939.4,686.2 939.4,688.1 935.6,688.1 935.6,678.5 931.8,678.5 931.8,690.0 927.9,690.0 927.9,686.2 924.0,686.2 924.0,678.5 920.2,678.5 920.2,691.9 915.9,691.9 915.9,680.4 911.5,680.4 911.5,672.7 907.7,672.7 907.7,682.3 905.8,682.3 899.5,680.4 899.5,672.7 895.2,672.7 895.2,691.9 891.3,691.9 891.3,674.6 887.5,674.6 887.5,688.1 884.2,688.1 884.2,674.6 880.8,674.6 880.8,668.8 876.5,668.8 876.5,672.5 871.8,672.5 871.8,677.4 867.0,677.4 867.0,672.5 862.6,672.5 862.6,679.9 859.0,679.9 859.0,667.5 855.2,667.5 855.2,662.6 851.0,662.6 851.0,674.9 846.6,674.9 846.6,689.7 842.3,689.7 842.3,674.9 837.3,674.9 837.3,682.3 832.5,682.3 832.5,677.4 828.1,677.4 828.1,687.3 824.5,687.3 824.5,672.5 820.8,672.5 820.8,687.3 817.6,687.3 817.6,655.2 814.5,655.2 814.5,682.3 810.9,682.3 810.9,677.4 807.1,677.4 807.1,667.5 802.8,667.5 802.8,684.8 798.5,684.8 798.5,682.3 794.9,682.3 794.9,687.3 791.1,687.3 791.1,677.4 787.5,677.4 787.5,687.3 783.2,687.3 783.2,682.3 778.9,682.3 778.9,684.8 775.1,684.8 775.1,689.7 771.5,689.7 771.5,692.2 767.8,692.2 767.8,682.3 764.0,682.3 764.0,689.7 760.4,689.7 760.4,677.4 756.6,677.4 756.6,687.3 753.5,687.3 753.5,674.9 750.5,674.9 750.5,692.2 748.6,692.2" fill="#1f77b4"/>
<rect x="726.2" y="493.4" width="535.0" height="211.8" fill="none" stroke="#383838" stroke-width="2.1"/>
<line x1="720.5" y1="696.1" x2="726.2" y2="696.1" stroke="#383838" stroke-width="2"/>
<text x="713.5" y="703.9" font-size="18.8" text-anchor="end" fill="#141414" stroke="#141414" stroke-width="0.65" textLength="10.0" lengthAdjust="spacingAndGlyphs">0</text>
<line x1="720.5" y1="627.8" x2="726.2" y2="627.8" stroke="#383838" stroke-width="2"/>
<text x="714.5" y="635.8" font-size="18.8" text-anchor="end" fill="#141414" stroke="#141414" stroke-width="0.65" textLength="10.0" lengthAdjust="spacingAndGlyphs">5</text>
<line x1="720.5" y1="559.5" x2="726.2" y2="559.5" stroke="#383838" stroke-width="2"/>
<text x="709.4" y="567.2" font-size="18.8" text-anchor="end" fill="#141414" stroke="#141414" stroke-width="0.65" textLength="20.0" lengthAdjust="spacingAndGlyphs">10</text>
<text transform="translate(675.3000000000001,601.9) rotate(-90)" font-size="18.5" text-anchor="middle" fill="#141414" textLength="151.5" lengthAdjust="spacingAndGlyphs" stroke="#141414" stroke-width="0.4">Wind Speed(m/s)</text>
<text transform="translate(747.7,721.9) rotate(-30)" font-size="19.5" text-anchor="middle" fill="#141414" dy="6.9" stroke="#141414" stroke-width="0.65">0</text>
<text transform="translate(859.1,729.9) rotate(-30)" font-size="19.5" text-anchor="middle" fill="#141414" dy="6.9" stroke="#141414" stroke-width="0.65">2000</text>
<text transform="translate(970.5,729.9) rotate(-30)" font-size="19.5" text-anchor="middle" fill="#141414" dy="6.9" stroke="#141414" stroke-width="0.65">4000</text>
<text transform="translate(1081.3,729.9) rotate(-30)" font-size="19.5" text-anchor="middle" fill="#141414" dy="6.9" stroke="#141414" stroke-width="0.65">6000</text>
<text transform="translate(1192.1,729.9) rotate(-30)" font-size="19.5" text-anchor="middle" fill="#141414" dy="6.9" stroke="#141414" stroke-width="0.65">8000</text>
<text x="390.3" y="814.3" font-size="26" text-anchor="middle" fill="#151515" stroke="#151515" stroke-width="0.7" textLength="68.5" lengthAdjust="spacingAndGlyphs">Hours</text>
<text x="1021.4" y="814.3" font-size="26" text-anchor="middle" fill="#151515" stroke="#151515" stroke-width="0.7" textLength="68.5" lengthAdjust="spacingAndGlyphs">Hours</text>
</g>
</svg></body></html>
